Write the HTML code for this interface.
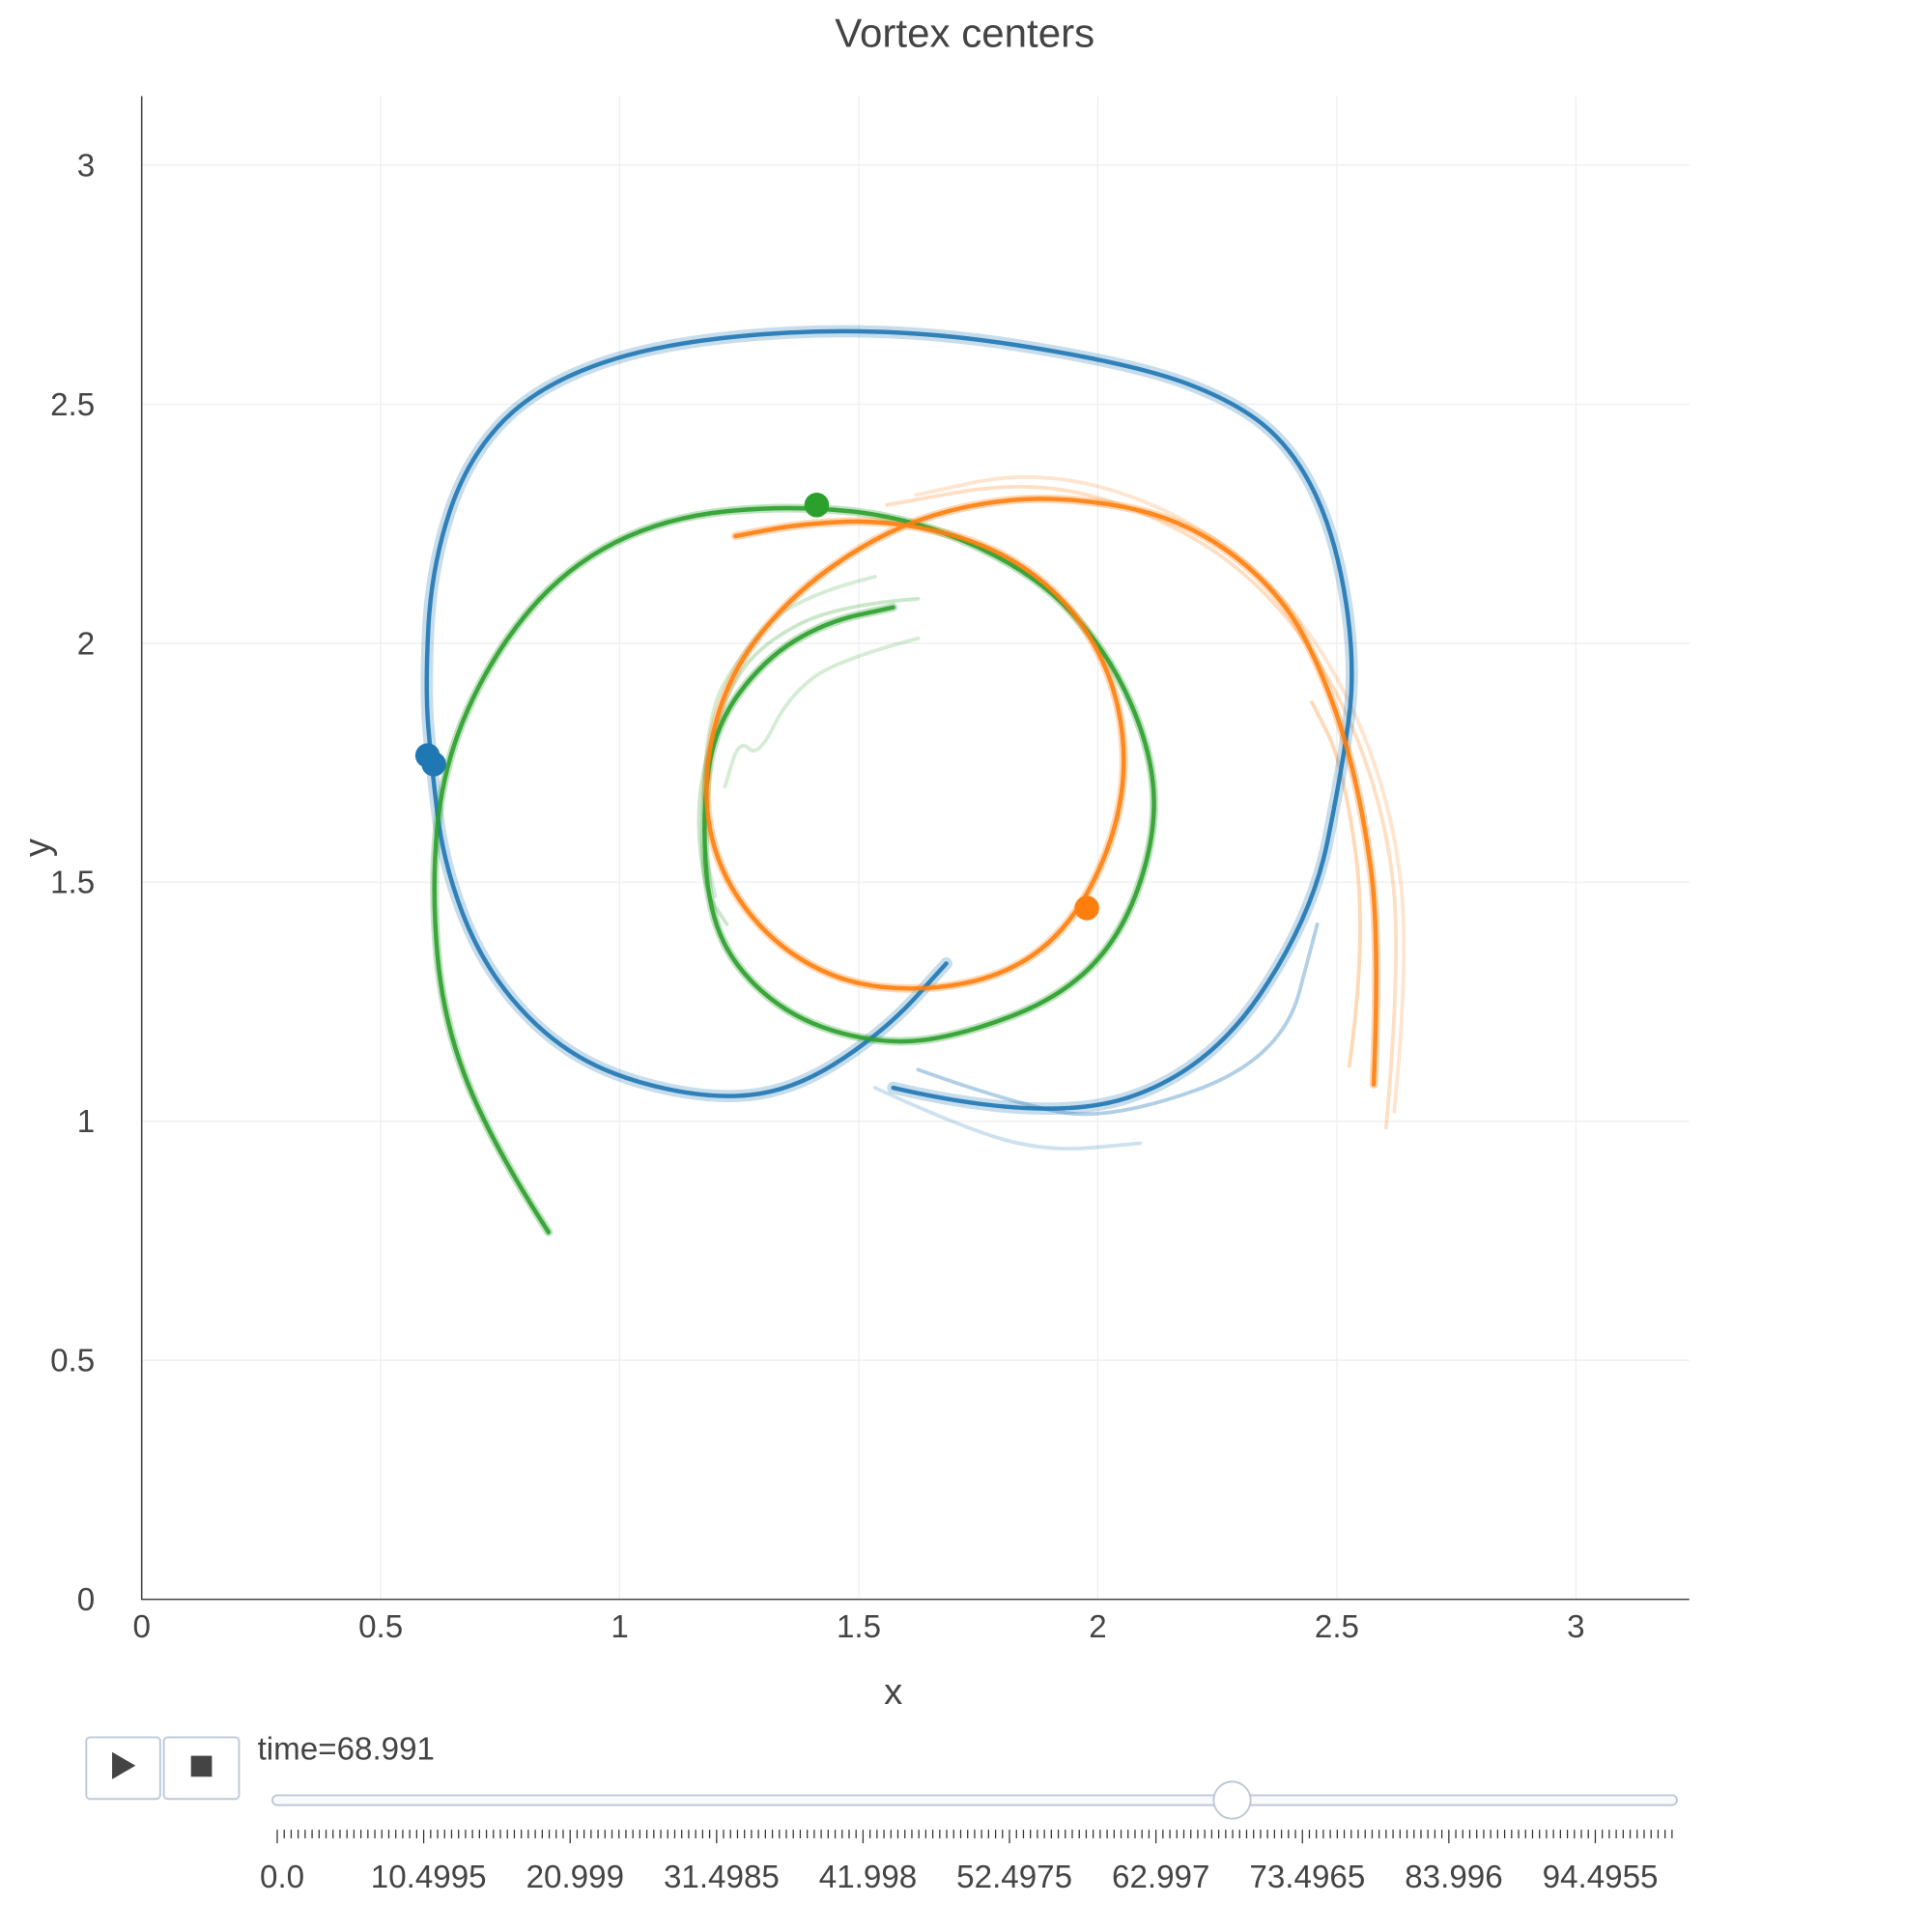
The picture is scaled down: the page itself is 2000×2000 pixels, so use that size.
<!DOCTYPE html>
<html><head><meta charset="utf-8">
<style>html,body{margin:0;padding:0;background:#fff}svg{display:block}
text{font-family:"Liberation Sans","DejaVu Sans",sans-serif;fill:#444}</style></head>
<body>
<svg id="chart" xmlns="http://www.w3.org/2000/svg" width="2000" height="2000" viewBox="0 0 1568 1568">
<text x="783" y="38" font-size="33" text-anchor="middle">Vortex centers</text>
<g id="grid"></g>
<g id="traces"></g>
<g id="axes"></g>
<text x="725" y="1383" font-size="30" text-anchor="middle">x</text>
<text x="40" y="688" font-size="30" text-anchor="middle" transform="rotate(-90 40 688)">y</text>
<g><rect x="70" y="1410" width="60" height="50" rx="3" fill="#fff" stroke="#bec8d9" stroke-width="1.5"/><path d="M91 1422 L110 1433 L91 1444 Z" fill="#444"/></g>
<g><rect x="133" y="1410" width="61" height="50" rx="3" fill="#fff" stroke="#bec8d9" stroke-width="1.5"/><rect x="155" y="1425" width="17" height="17" fill="#444"/></g>
<text x="209" y="1428" font-size="26">time=68.991</text>
<rect x="221" y="1457" width="1140" height="8" rx="4" fill="#f8fafc" stroke="#bec8d9" stroke-width="1.5"/>
<g id="sticks"></g>
<circle cx="1000" cy="1461" r="15" fill="#fff" stroke="#bec8d9" stroke-width="1.5"/>
</svg>
<script>
const xTicks=[0,0.5,1,1.5,2,2.5,3];
const yTicks=[0,0.5,1,1.5,2,2.5,3];
const blueMain=[[1.572,1.070],[1.894,0.995],[2.229,1.103],[2.448,1.425],[2.513,1.747],[2.539,1.954],[2.500,2.211],[2.420,2.390],[2.300,2.500],[2.075,2.585],[1.585,2.662],[1.121,2.637],[0.838,2.546],[0.683,2.392],[0.606,2.160],[0.593,1.902],[0.606,1.747],[0.631,1.541],[0.709,1.335],[0.838,1.180],[0.992,1.090],[1.211,1.044],[1.379,1.072],[1.559,1.193],[1.683,1.330]];
const blueFaint1=[[1.534,1.070],[1.714,0.987],[1.894,0.936],[2.088,0.954]];
const blueFaint2=[[1.624,1.108],[1.817,1.039],[2.023,1.000],[2.384,1.129],[2.459,1.412]];
const greenMain=[[0.851,0.768],[0.735,0.948],[0.631,1.206],[0.606,1.490],[0.631,1.747],[0.735,1.979],[0.889,2.160],[1.095,2.263],[1.353,2.289],[1.611,2.263],[1.869,2.147],[2.023,1.979],[2.113,1.773],[2.121,1.593],[2.049,1.387],[1.920,1.258],[1.714,1.180],[1.559,1.160],[1.379,1.206],[1.250,1.309],[1.186,1.438],[1.173,1.644],[1.198,1.825],[1.302,1.966],[1.430,2.044],[1.572,2.075]];
const greenFaint1=[[1.624,2.093],[1.456,2.080],[1.302,2.003],[1.224,1.902],[1.160,1.696],[1.173,1.490],[1.224,1.412]];
const greenFaint2=[[1.624,2.010],[1.456,1.966],[1.353,1.889],[1.289,1.760],[1.250,1.800],[1.220,1.700]];
const greenFaint3=[[1.534,2.139],[1.353,2.095],[1.237,1.954],[1.186,1.851],[1.170,1.600],[1.200,1.470]];
const orangeMain=[[2.577,1.077],[2.590,1.387],[2.552,1.670],[2.487,1.902],[2.384,2.108],[2.178,2.263],[1.920,2.309],[1.714,2.289],[1.534,2.224],[1.353,2.095],[1.224,1.928],[1.173,1.722],[1.198,1.541],[1.302,1.387],[1.456,1.291],[1.637,1.271],[1.817,1.309],[1.946,1.412],[2.036,1.593],[2.062,1.773],[2.023,1.954],[1.920,2.108],[1.765,2.211],[1.559,2.258],[1.379,2.250],[1.242,2.224]];
const orangeFaint1=[[2.603,0.987],[2.634,1.335],[2.603,1.644],[2.487,1.941],[2.307,2.160],[2.075,2.289],[1.843,2.340],[1.559,2.289]];
const orangeFaint2=[[2.526,1.116],[2.564,1.387],[2.513,1.747],[2.448,1.876]];
const orangeFaint3=[[2.620,1.020],[2.650,1.330],[2.620,1.640],[2.510,1.930],[2.330,2.170],[2.090,2.310],[1.850,2.360],[1.620,2.310]];
const blueDots=[[0.598,1.765],[0.611,1.747]];
const greenDots=[[1.412,2.289]];
const orangeDots=[[1.977,1.446]];
const sliderLabels=["0.0","10.4995","20.999","31.4985","41.998","52.4975","62.997","73.4965","83.996","94.4955"];
const NS="http://www.w3.org/2000/svg";
const X=v=>115+v*388, Y=v=>1298-v*388;
function mk(tag,attrs,parent){const e=document.createElementNS(NS,tag);for(const k in attrs)e.setAttribute(k,attrs[k]);parent.appendChild(e);return e;}
const grid=document.getElementById('grid'),axes=document.getElementById('axes'),tr=document.getElementById('traces');
xTicks.forEach(t=>{const l=mk('line',{x1:X(t),x2:X(t),y1:78,y2:1298,stroke:'#eee','stroke-width':1},grid);

const tx=mk('text',{x:X(t),y:1329,'font-size':26,'text-anchor':'middle'},axes);tx.textContent=String(t);
});
yTicks.forEach(t=>{const l=mk('line',{x1:115,x2:1371,y1:Y(t),y2:Y(t),stroke:'#eee','stroke-width':1},grid);

const tx=mk('text',{x:77,y:Y(t)+9,'font-size':26,'text-anchor':'end'},axes);tx.textContent=String(t);
});
const ax=mk('path',{d:'M115 78 L115 1298 L1371 1298',fill:'none',stroke:'#444','stroke-width':1.2},axes);

function pathD(pts){let d='M'+X(pts[0][0])+' '+Y(pts[0][1]);for(let i=1;i<pts.length-1;i++){const mx=(X(pts[i][0])+X(pts[i+1][0]))/2,my=(Y(pts[i][1])+Y(pts[i+1][1]))/2;d+=' Q'+X(pts[i][0])+' '+Y(pts[i][1])+' '+mx+' '+my;}const l=pts[pts.length-1];d+=' L'+X(l[0])+' '+Y(l[1]);return d;}
function line(pts,color,w,op,name){const p=mk('path',{d:pathD(pts),fill:'none',stroke:color,'stroke-width':w,'stroke-opacity':op,'stroke-linecap':'round'},tr);
}
const B='#1f77b4',O='#ff7f0e',G='#2ca02c';
line(orangeFaint3,O,3,0.2,'orange-trail');line(orangeFaint1,O,3,0.25,'orange-trail');line(orangeFaint2,O,3,0.3,'orange-trail');
line(blueFaint1,B,3,0.22,'blue-trail');line(blueFaint2,B,3,0.35,'blue-trail');
line(greenFaint1,G,3,0.25,'green-trail');line(greenFaint2,G,3,0.2,'green-trail');line(greenFaint3,G,3,0.2,'green-trail');
line(blueMain,B,10,0.25,'blue-trail-halo');line(greenMain,G,7,0.3,'green-trail-halo');line(orangeMain,O,7,0.3,'orange-trail-halo');
line(blueMain,B,3.5,0.9,'blue-path');line(greenMain,G,3.5,0.9,'green-path');line(orangeMain,O,3.5,0.9,'orange-path');
[[blueDots,B,'blue-vortex-center'],[greenDots,G,'green-vortex-center'],[orangeDots,O,'orange-vortex-center']].forEach(([ds,c,n])=>ds.forEach(d=>{const ci=mk('circle',{cx:X(d[0]),cy:Y(d[1]),r:10,fill:c},tr);
}));
const st=document.getElementById('sticks');
const s0=225,s1=1357,N=200;
for(let i=0;i<=N;i++){const x=s0+(s1-s0)*i/N;const maj=i%21===0;const l=mk('line',{x1:x,x2:x,y1:1485,y2:maj?1496:1492,stroke:'#333','stroke-width':1},st);
}
sliderLabels.forEach((s,i)=>{const x=s0+(s1-s0)*i*21/N;const t=mk('text',{x:x+4,y:1532,'font-size':26,'text-anchor':'middle'},st);t.textContent=s;
});
</script>
</body></html>
